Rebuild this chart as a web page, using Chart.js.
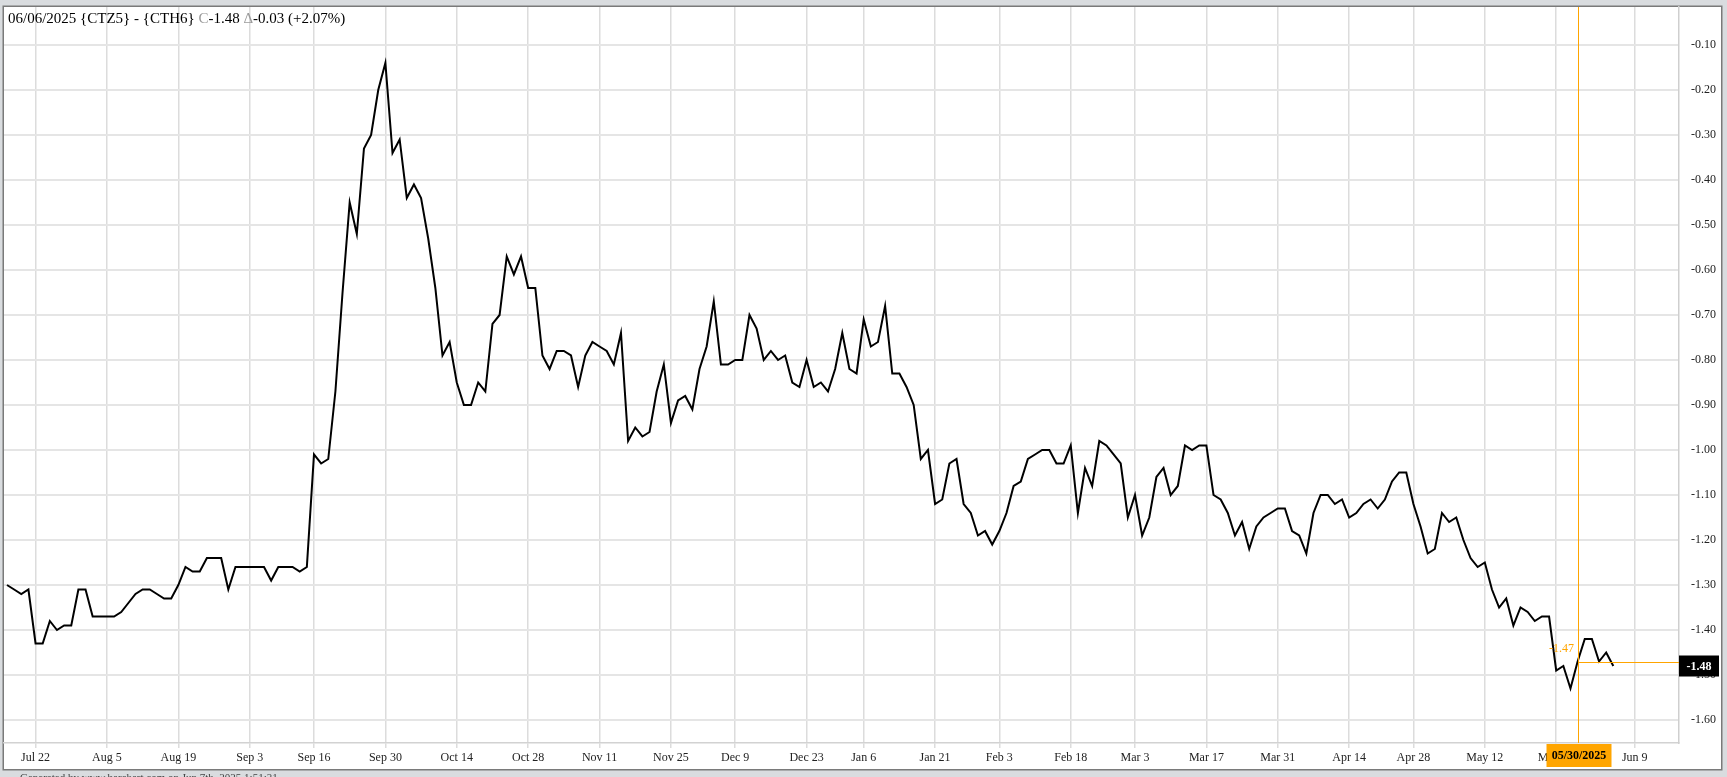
<!DOCTYPE html>
<html><head><meta charset="utf-8">
<script src="https://cdn.jsdelivr.net/npm/chart.js@4.4.1/dist/chart.umd.min.js"></script>
<style>
html,body{margin:0;padding:0;background:#d9dcdf;overflow:hidden}
#wrap{position:absolute;left:0;top:0;width:1727px;height:777px}
</style></head>
<body><div id="wrap"><canvas id="c" width="1727" height="777"></canvas></div>
<script>
// ---- categories: trading days of the spread, then calendar days after the last close ----
const firstDate = '2024-07-16';
const lastTradeDate = '2025-06-06';
const axisEndDate = '2025-06-15';
const holidays = ['2024-09-02','2024-11-28','2024-12-25','2025-01-01','2025-01-20','2025-02-17','2025-04-18','2025-05-26'];

// ---- series values ({CTZ5} - {CTH6} daily close) ----
const values = [
 -1.30,-1.31,-1.32,-1.31,-1.43,-1.43,-1.38,-1.40,-1.39,-1.39,
 -1.31,-1.31,-1.37,-1.37,-1.37,-1.37,-1.36,-1.34,-1.32,-1.31,
 -1.31,-1.32,-1.33,-1.33,-1.30,-1.26,-1.27,-1.27,-1.24,-1.24,
 -1.24,-1.31,-1.26,-1.26,-1.26,-1.26,-1.26,-1.29,-1.26,-1.26,
 -1.26,-1.27,-1.26,-1.01,-1.03,-1.02,-0.87,-0.65,-0.45,-0.52,
 -0.33,-0.30,-0.20,-0.14,-0.34,-0.31,-0.44,-0.41,-0.44,-0.53,
 -0.64,-0.79,-0.76,-0.85,-0.90,-0.90,-0.85,-0.87,-0.72,-0.70,
 -0.57,-0.61,-0.57,-0.64,-0.64,-0.79,-0.82,-0.78,-0.78,-0.79,
 -0.86,-0.79,-0.76,-0.77,-0.78,-0.81,-0.74,-0.98,-0.95,-0.97,
 -0.96,-0.87,-0.81,-0.94,-0.89,-0.88,-0.91,-0.82,-0.77,-0.67,
 -0.81,-0.81,-0.80,-0.80,-0.70,-0.73,-0.80,-0.78,-0.80,-0.79,
 -0.85,-0.86,-0.80,-0.86,-0.85,-0.87,-0.82,-0.74,-0.82,-0.83,
 -0.71,-0.77,-0.76,-0.68,-0.83,-0.83,-0.86,-0.90,-1.02,-1.00,
 -1.12,-1.11,-1.03,-1.02,-1.12,-1.14,-1.19,-1.18,-1.21,-1.18,
 -1.14,-1.08,-1.07,-1.02,-1.01,-1.00,-1.00,-1.03,-1.03,-0.99,
 -1.14,-1.04,-1.08,-0.98,-0.99,-1.01,-1.03,-1.15,-1.10,-1.19,
 -1.15,-1.06,-1.04,-1.10,-1.08,-0.99,-1.00,-0.99,-0.99,-1.10,
 -1.11,-1.14,-1.19,-1.16,-1.22,-1.17,-1.15,-1.14,-1.13,-1.13,
 -1.18,-1.19,-1.23,-1.14,-1.10,-1.10,-1.12,-1.11,-1.15,-1.14,
 -1.12,-1.11,-1.13,-1.11,-1.07,-1.05,-1.05,-1.12,-1.17,-1.23,
 -1.22,-1.14,-1.16,-1.15,-1.20,-1.24,-1.26,-1.25,-1.31,-1.35,
 -1.33,-1.39,-1.35,-1.36,-1.38,-1.37,-1.37,-1.49,-1.48,-1.53,
 -1.47,-1.42,-1.42,-1.47,-1.45,-1.48
];

// ---- tick labels ----
const xTickLabels = ['Jul 22','Aug 5','Aug 19','Sep 3','Sep 16','Sep 30','Oct 14','Oct 28','Nov 11','Nov 25',
  'Dec 9','Dec 23','Jan 6','Jan 21','Feb 3','Feb 18','Mar 3','Mar 17','Mar 31','Apr 14','Apr 28','May 12','May 27','Jun 9'];
const yTickValues = [-0.10,-0.20,-0.30,-0.40,-0.50,-0.60,-0.70,-0.80,-0.90,-1.00,-1.10,-1.20,-1.30,-1.40,-1.50,-1.60];

// ---- header text ----
const headerDate = '06/06/2025';
const headerSymbol = '{CTZ5} - {CTH6}';
const headerClose = '-1.48';
const headerChange = '-0.03 (+2.07%)';
const crosshairDate = '2025-05-30';
const footerText = 'Generated by www.barchart.com on Jun 7th, 2025 1:51:31';

// ---- build categories ----
const MON = ['Jan','Feb','Mar','Apr','May','Jun','Jul','Aug','Sep','Oct','Nov','Dec'];
function iso(d){return d.toISOString().slice(0,10);}
const categories = [];
(function(){
  let d = new Date(firstDate+'T00:00:00Z');
  const last = new Date(lastTradeDate+'T00:00:00Z');
  const end = new Date(axisEndDate+'T00:00:00Z');
  while (d <= end) {
    const wd = d.getUTCDay();
    if (d > last) categories.push(iso(d));
    else if (wd !== 0 && wd !== 6 && !holidays.includes(iso(d))) categories.push(iso(d));
    d = new Date(d.getTime() + 86400000);
  }
})();
function short(isoStr){const d=new Date(isoStr+'T00:00:00Z');return MON[d.getUTCMonth()]+' '+d.getUTCDate();}
const xTickIndex = xTickLabels.map(l => categories.findIndex(c => short(c) === l));
const points = values.map((v,i) => ({x:i, y:v}));

const SERIF = '"Liberation Serif","DejaVu Serif",serif';
const ORANGE = '#FFA500';

const framePlugin = {
  id:'frame',
  beforeDraw(chart){
    const ctx = chart.ctx;
    ctx.save();
    ctx.fillStyle = '#d9dcdf';
    ctx.fillRect(0,0,chart.width,chart.height);
    ctx.fillStyle = '#ffffff';
    ctx.fillRect(4,7,1717,762);
    ctx.strokeStyle = '#7a7a7a';
    ctx.lineWidth = 1.5;
    ctx.strokeRect(3.25,6.25,1718.5,763.5);
    ctx.restore();
  },
  afterDraw(chart){
    const ctx = chart.ctx, xs = chart.scales.x, ys = chart.scales.y, ca = chart.chartArea;
    ctx.save();
    // crosshair
    const ci = categories.indexOf(crosshairDate);
    const cv = values[ci];
    const cx = Math.round(xs.getPixelForValue(ci)) + 0.5;
    const cy = Math.round(ys.getPixelForValue(cv)) + 0.5;
    ctx.strokeStyle = ORANGE; ctx.lineWidth = 1;
    ctx.beginPath(); ctx.moveTo(cx, ca.top); ctx.lineTo(cx, ca.bottom); ctx.stroke();
    ctx.beginPath(); ctx.moveTo(cx, cy); ctx.lineTo(ca.right, cy); ctx.stroke();
    ctx.fillStyle = ORANGE; ctx.font = '12px '+SERIF;
    ctx.textAlign = 'center'; ctx.textBaseline = 'middle';
    ctx.fillText(cv.toFixed(2), cx - 17, cy - 14);
    // crosshair date box
    const cd = crosshairDate.split('-');
    const dateTxt = cd[1]+'/'+cd[2]+'/'+cd[0];
    ctx.fillStyle = ORANGE;
    ctx.fillRect(cx - 32, ca.bottom + 1, 65, 23);
    ctx.fillStyle = '#000'; ctx.font = 'bold 12px '+SERIF;
    ctx.fillText(dateTxt, cx + 0.5, ca.bottom + 13);
    // last value box
    const lv = values[values.length-1];
    const ly = ys.getPixelForValue(lv);
    ctx.fillStyle = '#000';
    ctx.fillRect(ca.right, ly - 10.5, 40, 21);
    ctx.fillStyle = '#fff'; ctx.font = 'bold 12px '+SERIF;
    ctx.fillText(lv.toFixed(2), ca.right + 20, ly + 0.5);
    // header
    ctx.textAlign = 'left'; ctx.textBaseline = 'alphabetic';
    ctx.font = '15px '+SERIF;
    let x = 8; const y = 23;
    const parts = [[headerDate+' '+headerSymbol+' ', '#000'], ['C', '#9a9a9a'], [headerClose+' ', '#000'], ['\u0394', '#9a9a9a'], [headerChange, '#000']];
    for (const [t,c] of parts){ ctx.fillStyle = c; ctx.fillText(t, x, y); x += ctx.measureText(t).width; }
    // footer (cut by the window edge)
    ctx.fillStyle = '#444'; ctx.font = '11px '+SERIF; ctx.textBaseline = 'top';
    ctx.fillText(footerText, 20, 773);
    ctx.restore();
  }
};

new Chart(document.getElementById('c'), {
  type:'line',
  data:{ datasets:[{ data: points, borderColor:'#000', borderWidth:2, pointRadius:0, tension:0, fill:false }] },
  options:{
    responsive:false, animation:false, devicePixelRatio:1,
    layout:{ padding:{ left:4, top:7, right:6, bottom:8 } },
    plugins:{ legend:{display:false}, tooltip:{enabled:false}, title:{display:false} },
    scales:{
      x:{
        type:'linear', position:'bottom', min:-0.42, max:234.2,
        afterBuildTicks(ax){ ax.ticks = xTickIndex.map(v => ({value:v})); },
        afterFit(ax){ ax.height = 26; ax.paddingLeft = 0; ax.paddingRight = 0; },
        grid:{ color:'#dcdcdc', lineWidth:1.5, drawTicks:true, tickLength:5, tickColor:'#dcdcdc' },
        border:{ display:true, color:'#d2d2d2', width:1.5 },
        ticks:{ autoSkip:false, maxRotation:0, minRotation:0, padding:3, color:'#222',
          font:{ family:SERIF, size:12 }, callback:(v,i) => xTickLabels[i] }
      },
      y:{
        type:'linear', position:'right', min:-1.6511, max:-0.0156,
        afterBuildTicks(ax){ ax.ticks = yTickValues.map(v => ({value:v})); },
        afterFit(ax){ ax.width = 42; ax.paddingTop = 0; ax.paddingBottom = 0; },
        grid:{ color:'#e5e5e5', lineWidth:2, drawTicks:false },
        border:{ display:true, color:'#cfcfcf', width:1.5 },
        ticks:{ padding:12, color:'#222', font:{ family:SERIF, size:12 }, callback:(v) => Number(v).toFixed(2) }
      }
    }
  },
  plugins:[framePlugin]
});
</script>
</body></html>
